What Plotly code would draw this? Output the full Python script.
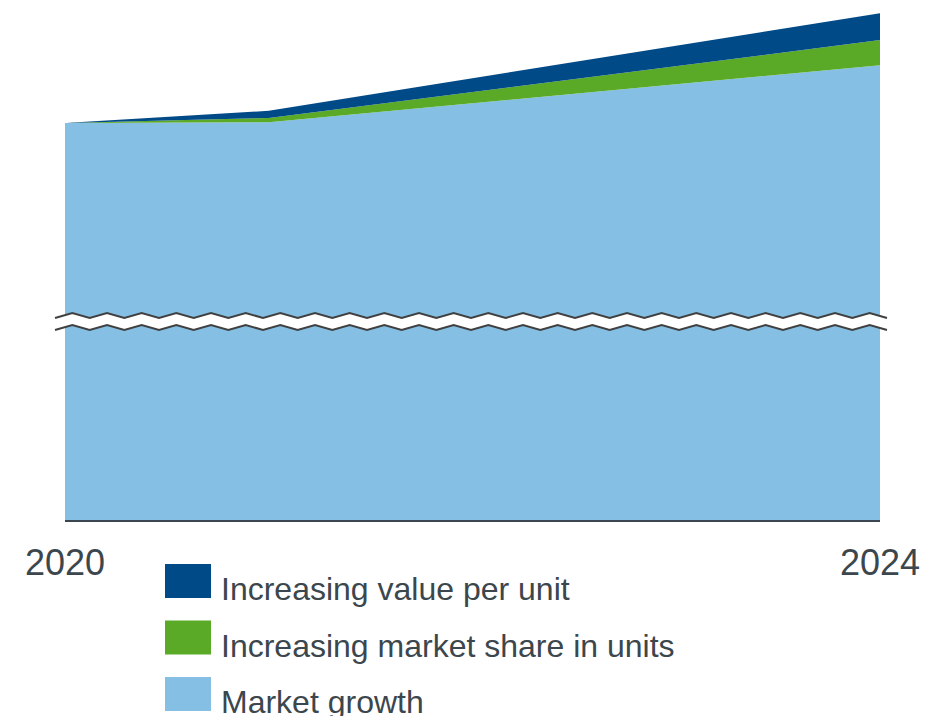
import plotly.graph_objects as go

# Data: stacked contributions (index, 2020 market = 100)
years = [2020, 2021, 2024]
market_growth = [100.0, 100.2, 114.6]
market_share_units = [0.0, 1.1, 6.3]
value_per_unit = [0.0, 1.8, 6.8]

series_names = ["Market growth", "Increasing market share in units", "Increasing value per unit"]
series_colors = ["#85C0E4", "#5AAA28", "#004A87"]
tick_years = [2020, 2024]
tick_text = ["2020", "2024"]

TEXT = "#3C464D"
FONT = "Liberation Sans, Arial, sans-serif"

W, H = 932, 716
ML, MR, MT, MB = 65, 52, 4, 196
Y_MAX = 130
plot_w = W - ML - MR
plot_h = H - MT - MB


def px_x(px):
    return (px - ML) / plot_w


def px_y(py):
    return (H - MB - py) / plot_h


fig = go.Figure()
for name, vals, col in zip(series_names, [market_growth, market_share_units, value_per_unit], series_colors):
    fig.add_trace(go.Scatter(
        x=years, y=vals, name=name, mode="lines", stackgroup="one",
        line=dict(width=0, color=col), fillcolor=col, showlegend=False,
        hoverinfo="skip",
    ))

# Axis-break zigzag across the area
units_per_px = Y_MAX / plot_h
break_level = 50.9          # data units of the upper trough
tooth = 5 * units_per_px
gap = 12 * units_per_px
n_seg = 48
x0p, x1p = 55, 887
xs = [px_x(x0p + k * (x1p - x0p) / n_seg) for k in range(n_seg + 1)]
upper = [break_level + (tooth if k % 2 else 0) for k in range(n_seg + 1)]
lower = [u - gap for u in upper]


def path_of(xv, yv):
    return "M " + " L ".join(f"{a:.5f},{b:.4f}" for a, b in zip(xv, yv))


band = path_of(xs + xs[::-1], upper + lower[::-1]) + " Z"
shapes = [
    dict(type="path", path=band, xref="paper", yref="y", fillcolor="white",
         line=dict(width=0), layer="above"),
    dict(type="path", path=path_of(xs, upper), xref="paper", yref="y",
         line=dict(color="#404040", width=2), layer="above"),
    dict(type="path", path=path_of(xs, lower), xref="paper", yref="y",
         line=dict(color="#404040", width=2), layer="above"),
]

# Legend: swatches and labels, top row first
annotations = []
row_tops = [564, 620.5, 677]
legend_order = [2, 1, 0]
for top, idx in zip(row_tops, legend_order):
    shapes.append(dict(type="rect", xref="paper", yref="paper",
                       x0=px_x(165), x1=px_x(211), y0=px_y(top), y1=px_y(top + 34),
                       fillcolor=series_colors[idx], line=dict(width=0)))
    annotations.append(dict(text=series_names[idx], xref="paper", yref="paper",
                            x=px_x(219), y=px_y(top + 25), xanchor="left", yanchor="middle",
                            showarrow=False, font=dict(size=32, color=TEXT, family=FONT)))

fig.update_layout(
    width=W, height=H, autosize=False,
    margin=dict(l=ML, r=MR, t=MT, b=MB, pad=0),
    paper_bgcolor="white", plot_bgcolor="white",
    font=dict(family=FONT, color=TEXT),
    shapes=shapes, annotations=annotations,
    xaxis=dict(range=[2020, 2024], tickvals=tick_years, ticktext=tick_text,
               showgrid=False, zeroline=False, showline=True, linecolor="#3C4650",
               linewidth=2, ticks="", ticklabelstandoff=10,
               tickfont=dict(size=36, color=TEXT, family=FONT)),
    yaxis=dict(range=[0, Y_MAX], visible=False, showgrid=False, zeroline=False),
    showlegend=False,
)

fig.write_html("out.html")
